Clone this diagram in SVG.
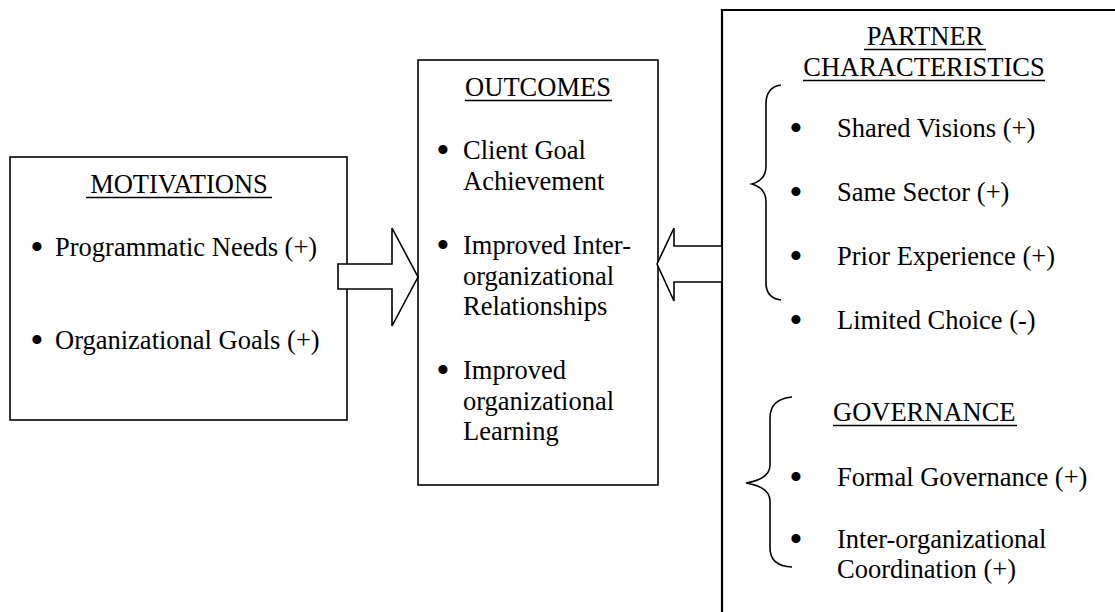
<svg xmlns="http://www.w3.org/2000/svg" width="1115" height="612" viewBox="0 0 1115 612">
  <style>
    text { font-family: "Liberation Serif", "Times New Roman", serif; font-size: 26.5px; fill: #000; }
    text.bullet { font-size: 38px; text-anchor: middle; }
    .title { text-anchor: middle; }
    .box { fill: #fff; stroke: #000; stroke-width: 1.6; }
    .ul { stroke: #000; stroke-width: 1.4; }
    .brace { fill: none; stroke: #000; stroke-width: 1.6; }
    .arrow { fill: #fff; stroke: #000; stroke-width: 1.6; stroke-linejoin: miter; }
  </style>

  <!-- Motivations -->
  <g id="motivations">
    <rect class="box" x="10" y="157" width="337" height="263"/>
    <text class="title" x="179" y="193">MOTIVATIONS</text>
    <line class="ul" x1="86" y1="197.5" x2="272" y2="197.5"/>
    <text class="bullet" x="37" y="260">•</text>
    <text x="55" y="256">Programmatic Needs (+)</text>
    <text class="bullet" x="37" y="353">•</text>
    <text x="55" y="349">Organizational Goals (+)</text>
  </g>

  <!-- Outcomes -->
  <g id="outcomes">
    <rect class="box" x="418" y="60" width="240" height="425"/>
    <text class="title" x="538" y="96">OUTCOMES</text>
    <line class="ul" x1="465" y1="100.5" x2="612" y2="100.5"/>
    <text class="bullet" x="443" y="163">•</text>
    <text x="463" y="159">Client Goal</text>
    <text x="463" y="190">Achievement</text>
    <text class="bullet" x="443" y="258">•</text>
    <text x="463" y="254">Improved Inter-</text>
    <text x="463" y="285">organizational</text>
    <text x="463" y="315">Relationships</text>
    <text class="bullet" x="443" y="383">•</text>
    <text x="463" y="379">Improved</text>
    <text x="463" y="410">organizational</text>
    <text x="463" y="440">Learning</text>
  </g>

  <!-- Partner characteristics -->
  <g id="partner-characteristics">
    <path d="M1116 10 H722 V613" fill="none" stroke="#000" stroke-width="2.2"/>
    <text class="title" x="925" y="45">PARTNER</text>
    <line class="ul" x1="864" y1="49.5" x2="986" y2="49.5"/>
    <text class="title" x="924" y="76">CHARACTERISTICS</text>
    <line class="ul" x1="803" y1="80.5" x2="1045" y2="80.5"/>
    <path class="brace" d="M781 85 Q766 87 766 104 V166 Q766 180 752 184 Q766 188 766 202 V283 Q766 298 781 300"/>
    <text class="bullet" x="796" y="141">•</text>
    <text x="837" y="137">Shared Visions (+)</text>
    <text class="bullet" x="796" y="205">•</text>
    <text x="837" y="201">Same Sector (+)</text>
    <text class="bullet" x="796" y="269">•</text>
    <text x="837" y="265">Prior Experience (+)</text>
    <text class="bullet" x="796" y="333">•</text>
    <text x="837" y="329">Limited Choice (-)</text>
  </g>

  <!-- Governance -->
  <g id="governance">
    <path class="brace" d="M792 397 Q770 399 770 418 V465 Q770 479 746 483 Q770 487 770 501 V548 Q770 566 792 567"/>
    <text x="833" y="421">GOVERNANCE</text>
    <line class="ul" x1="833" y1="425.5" x2="1017" y2="425.5"/>
    <text class="bullet" x="796" y="490">•</text>
    <text x="837" y="486">Formal Governance (+)</text>
    <text class="bullet" x="796" y="552">•</text>
    <text x="837" y="548">Inter-organizational</text>
    <text x="837" y="578">Coordination (+)</text>
  </g>

  <!-- Block arrows -->
  <g id="connectors">
    <polygon class="arrow" points="338,264 392,264 392,228 418,277 392,326 392,289 338,289"/>
    <polygon class="arrow" points="722,246 674,246 674,228 657,264 674,301 674,282 722,282"/>
  </g>
</svg>
